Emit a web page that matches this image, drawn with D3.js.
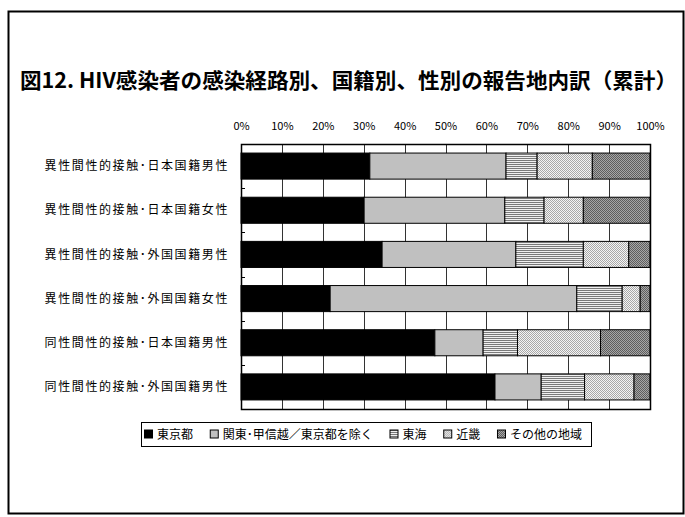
<!DOCTYPE html>
<html>
<head>
<meta charset="utf-8">
<script src="https://cdn.jsdelivr.net/npm/d3@7"></script>
<style>
  html, body { margin: 0; padding: 0; background: #fff; }
  svg { display: block; }
  text { font-family: "Noto Sans CJK JP", "Noto Sans", sans-serif; fill: #000; }
</style>
</head>
<body>
<svg id="chart" width="685" height="517"></svg>
<script>
// Report-location breakdown (cumulative, %) by route, nationality and sex
const categories = [
  "異性間性的接触･日本国籍男性",
  "異性間性的接触･日本国籍女性",
  "異性間性的接触･外国国籍男性",
  "異性間性的接触･外国国籍女性",
  "同性間性的接触･日本国籍男性",
  "同性間性的接触･外国国籍男性"
];
const regions = ["東京都", "関東･甲信越／東京都を除く", "東海", "近畿", "その他の地域"];
const tokyo = [31.5, 30.1, 34.5, 21.8, 47.4, 62.1];
const kanto = [33.3, 34.4, 32.7, 60.3, 11.8, 11.3];
const tokai = [7.6, 9.6, 16.5, 11.1, 8.4, 10.6];
const kinki = [13.5, 9.6, 11.1, 4.4, 20.3, 12.1];
const other = [14.1, 16.3, 5.2, 2.4, 12.1, 3.9];
const tickValues = [0, 10, 20, 30, 40, 50, 60, 70, 80, 90, 100];
const titleText = "図12. HIV感染者の感染経路別、国籍別、性別の報告地内訳（累計）";

const seriesValues = [tokyo, kanto, tokai, kinki, other];
const rows = categories.map((c, i) => {
  const r = { category: c };
  regions.forEach((g, k) => { r[g] = seriesValues[k][i]; });
  return r;
});

const svg = d3.select("#chart");

// Fill patterns for each region
const defs = svg.append("defs");
const pTokai = defs.append("pattern").attr("id", "p-tokai")
  .attr("patternUnits", "userSpaceOnUse").attr("width", 4).attr("height", 2);
pTokai.append("rect").attr("width", 4).attr("height", 2).attr("fill", "#f0f0f0");
pTokai.append("rect").attr("width", 4).attr("height", 1).attr("fill", "#7a7a7a");

const pKinki = defs.append("pattern").attr("id", "p-kinki")
  .attr("patternUnits", "userSpaceOnUse").attr("width", 2).attr("height", 2);
pKinki.append("rect").attr("width", 2).attr("height", 2).attr("fill", "#f4f4f4");
pKinki.append("rect").attr("width", 1).attr("height", 1).attr("fill", "#a8a8a8");
pKinki.append("rect").attr("x", 1).attr("y", 1).attr("width", 1).attr("height", 1).attr("fill", "#a8a8a8");

const pOther = defs.append("pattern").attr("id", "p-other")
  .attr("patternUnits", "userSpaceOnUse").attr("width", 2).attr("height", 2);
pOther.append("rect").attr("width", 2).attr("height", 2).attr("fill", "#a6a6a6");
pOther.append("rect").attr("width", 1).attr("height", 1).attr("fill", "#5e5e5e");
pOther.append("rect").attr("x", 1).attr("y", 1).attr("width", 1).attr("height", 1).attr("fill", "#5e5e5e");

const fills = {
  "東京都": "#000000",
  "関東･甲信越／東京都を除く": "#c0c0c0",
  "東海": "url(#p-tokai)",
  "近畿": "url(#p-kinki)",
  "その他の地域": "url(#p-other)"
};

// Outer frame
svg.append("rect")
  .attr("x", 8.5).attr("y", 11.5).attr("width", 675).attr("height", 502)
  .attr("fill", "none").attr("stroke", "#000").attr("stroke-width", 2);

// Title (condensed to the frame width)
svg.append("text")
  .attr("x", 20).attr("y", 88)
  .attr("font-size", 21).attr("font-weight", "bold")
  .attr("textLength", 657).attr("lengthAdjust", "spacingAndGlyphs")
  .text(titleText);

// Plot area
const plot = { left: 241, right: 650, top: 144, bottom: 409 };
const x = d3.scaleLinear().domain([0, 100]).range([plot.left, plot.right]);
const y = d3.scaleBand().domain(categories).range([plot.top, plot.bottom]).paddingInner(0.41).paddingOuter(0.205);
const yb = d3.scaleBand().domain(categories).range([plot.top, plot.bottom]);

// Vertical gridlines
svg.append("g").selectAll("line").data(tickValues).join("line")
  .attr("x1", d => Math.round(x(d)) + 0.5).attr("x2", d => Math.round(x(d)) + 0.5)
  .attr("y1", plot.top).attr("y2", plot.bottom)
  .attr("stroke", "#333").attr("stroke-width", 1);

// Top axis labels
const axisTop = d3.axisTop(x).tickValues(tickValues).tickFormat(d => d + "%").tickSize(0).tickPadding(0);
const gx = svg.append("g").attr("transform", `translate(0,${plot.top - 14})`).call(axisTop);
gx.select(".domain").remove();
gx.selectAll("text").attr("font-size", 11).attr("fill", "#000")
  .style("font-family", "'Noto Sans CJK JP', sans-serif");

// Stacked bars
const stack = d3.stack().keys(regions);
const layers = stack(rows);
svg.append("g").selectAll("g").data(layers).join("g")
  .attr("fill", d => fills[d.key])
  .selectAll("rect").data(d => d).join("rect")
  .attr("x", d => x(d[0]))
  .attr("width", d => x(d[1]) - x(d[0]))
  .attr("y", d => y(d.data.category))
  .attr("height", y.bandwidth())
  .attr("stroke", "#000").attr("stroke-width", 1);

// Plot border
svg.append("rect")
  .attr("x", plot.left + 0.5).attr("y", plot.top + 0.5)
  .attr("width", plot.right - plot.left).attr("height", plot.bottom - plot.top)
  .attr("fill", "none").attr("stroke", "#000").attr("stroke-width", 1.5);

// Category ticks on the left axis
svg.append("g").selectAll("line").data(categories.slice(1)).join("line")
  .attr("x1", plot.left).attr("x2", plot.left + 4)
  .attr("y1", d => Math.round(yb(d)) + 0.5).attr("y2", d => Math.round(yb(d)) + 0.5)
  .attr("stroke", "#000");

// Category labels
svg.append("g").selectAll("text").data(categories).join("text")
  .attr("x", 229)
  .attr("y", d => yb(d) + yb.bandwidth() / 2)
  .attr("dy", "0.35em")
  .attr("text-anchor", "end")
  .attr("font-size", 12)
  .attr("letter-spacing", 1.6)
  .text(d => d);

// Legend: entries spread evenly across a framed box
const legendBox = { x: 141, y: 422, w: 450, h: 24 };
const legend = svg.append("g");
legend.append("rect")
  .attr("x", legendBox.x + 0.5).attr("y", legendBox.y + 0.5)
  .attr("width", legendBox.w).attr("height", legendBox.h)
  .attr("fill", "#fff").attr("stroke", "#000").attr("stroke-width", 1);
const lgY = legendBox.y + legendBox.h / 2 + 0.5;
const markerSize = 8, markerGap = 5, padL = 3, padR = 9;
const items = regions.map(r => {
  const g = legend.append("g");
  g.append("rect").attr("x", 0.5).attr("y", lgY - 4.5).attr("width", markerSize).attr("height", markerSize)
    .attr("fill", fills[r]).attr("stroke", "#000").attr("stroke-width", 1);
  const t = g.append("text").attr("x", markerSize + markerGap).attr("y", lgY).attr("dy", "0.35em")
    .attr("font-size", 12).text(r);
  return { g, w: markerSize + markerGap + t.node().getComputedTextLength() };
});
const used = d3.sum(items, d => d.w);
const itemGap = (legendBox.w - padL - padR - used) / (items.length - 1);
let lx = legendBox.x + padL;
items.forEach(it => {
  it.g.attr("transform", `translate(${lx},0)`);
  lx += it.w + itemGap;
});
</script>
</body>
</html>
